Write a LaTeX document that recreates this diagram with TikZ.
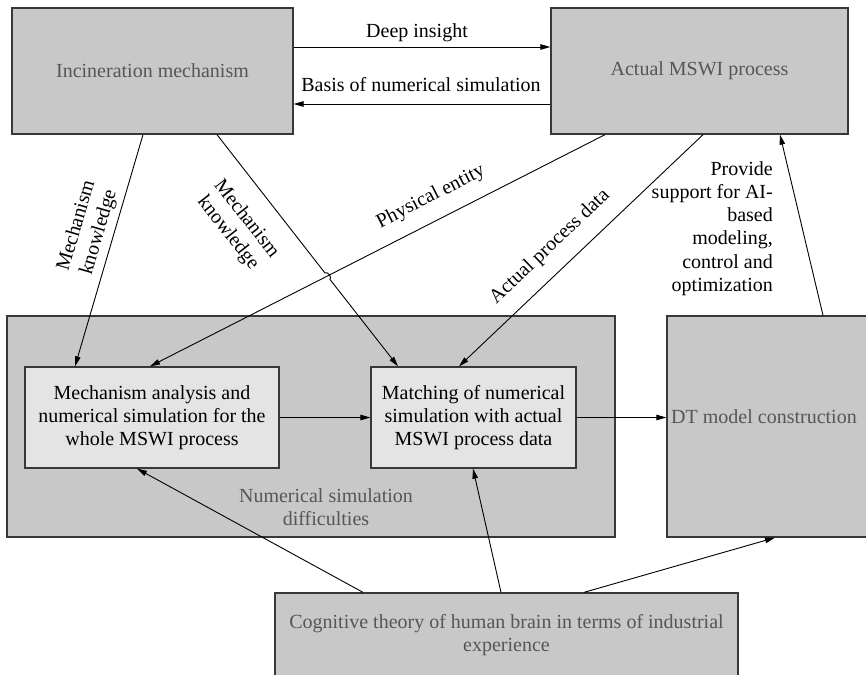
\documentclass[tikz,border=0pt]{standalone}
\usepackage{fontspec}
\setmainfont{Liberation Serif}
\newfontfamily\timesfont{Liberation Serif}
\usetikzlibrary{arrows.meta,calc}

\definecolor{boxgray}{HTML}{C8C8C8}
\definecolor{innergray}{HTML}{E4E4E4}
\definecolor{edgegray}{HTML}{383838}
\definecolor{textgray}{HTML}{565656}

\tikzset{
  txt/.style={font=\timesfont\fontsize{20}{23.3}\selectfont, inner sep=0pt, align=center},
  graybox/.style={draw=edgegray, fill=boxgray, line width=1.3pt, inner sep=0pt,
    font=\timesfont\fontsize{20}{23.3}\selectfont, text=textgray, align=center},
  innerbox/.style={graybox, fill=innergray, text=black},
  boxtext/.style={txt, text=textgray},
  arr/.style={line width=0.9pt, -{Triangle[length=10pt,width=5.5pt]}},
  plain/.style={line width=0.9pt}
}

\begin{document}
\begin{tikzpicture}[x=1pt, y=-1pt]
\useasboundingbox (0,0) rectangle (866,674);

% top row
\node[graybox, minimum width=281pt, minimum height=126pt] (incin) at (152.5,71) {Incineration mechanism};
\node[graybox, minimum width=297pt, minimum height=126pt] (actual) at (699.5,71) {Actual MSWI process};

% middle row: simulation block and DT model
\node[graybox, minimum width=608pt, minimum height=221pt] (numsim) at (311,426.5) {};
\node[boxtext] (numsimtext) at (326,507) {Numerical simulation\\difficulties};
\node[graybox, minimum width=230pt, minimum height=221pt] (dt) at (782,426.5) {};
\node[boxtext, anchor=west] (dttext) at (671,417) {DT model construction};

\node[innerbox, minimum width=254pt, minimum height=101pt] (box1) at (152,417.5)
  {Mechanism analysis and\\numerical simulation for the\\whole MSWI process};
\node[innerbox, minimum width=205pt, minimum height=101pt] (box2) at (473.5,417.5)
  {Matching of numerical\\simulation with actual\\MSWI process data};

% bottom: cognitive theory
\node[graybox, minimum width=463pt, minimum height=120pt] (cog) at (506.5,653) {};
\node[boxtext] (cogtext) at (506.5,635) {Cognitive theory of human brain in terms of industrial\\experience};

% links between the top boxes
\coordinate (dia) at ($(incin.east)+(0,-24)$);
\coordinate (bsa) at ($(actual.west)+(0,33)$);
\draw[arr] (dia) -- (dia -| actual.west);
\draw[arr] (bsa) -- (bsa -| incin.east);
\node[txt] (deep) at (417,33) {Deep insight};
\node[txt] (basis) at (421,85) {Basis of numerical simulation};

% knowledge and data flows into the simulation block
\draw[arr] (incin.south -| 143,0) -- (box1.north -| 75,0);
\draw[arr] (incin.south -| 217,0) -- (324.9,272.9) to[bend left=90] (329.9,279.3) -- (box2.north -| 398,0);
\draw[arr] (actual.south -| 605,0) -- (box1.north -| 150,0);
\draw[arr] (actual.south -| 703,0) -- (box2.north -| 459,0);
\draw[arr] (dt.north -| 823,0) -- (actual.south -| 780,0);

\node[txt, rotate=73.6] (mk1) at (88,229) {Mechanism\\knowledge};
\node[txt, rotate=-52] (mk2) at (237,226) {Mechanism\\knowledge};
\node[txt, rotate=27] (pe) at (431,197) {Physical entity};
\node[txt, rotate=43.4] (apd) at (550,247) {Actual process data};
\node[txt, align=right, anchor=east] (support) at (773,228.5)
  {Provide\\support for AI-\\based\\modeling,\\control and\\optimization};

% horizontal chain
\draw[arr] (box1.east) -- (box2.west);
\draw[arr] (box2.east) -- (box2.east -| dt.west);

% experience feeding back
\draw[arr] (cog.north -| 363,0) -- (box1.south -| 137,0);
\draw[arr] (cog.north -| 501,0) -- (box2.south -| 473,0);
\draw[arr] (cog.north -| 584,0) -- (dt.south -| 775,0);
\end{tikzpicture}
\end{document}
